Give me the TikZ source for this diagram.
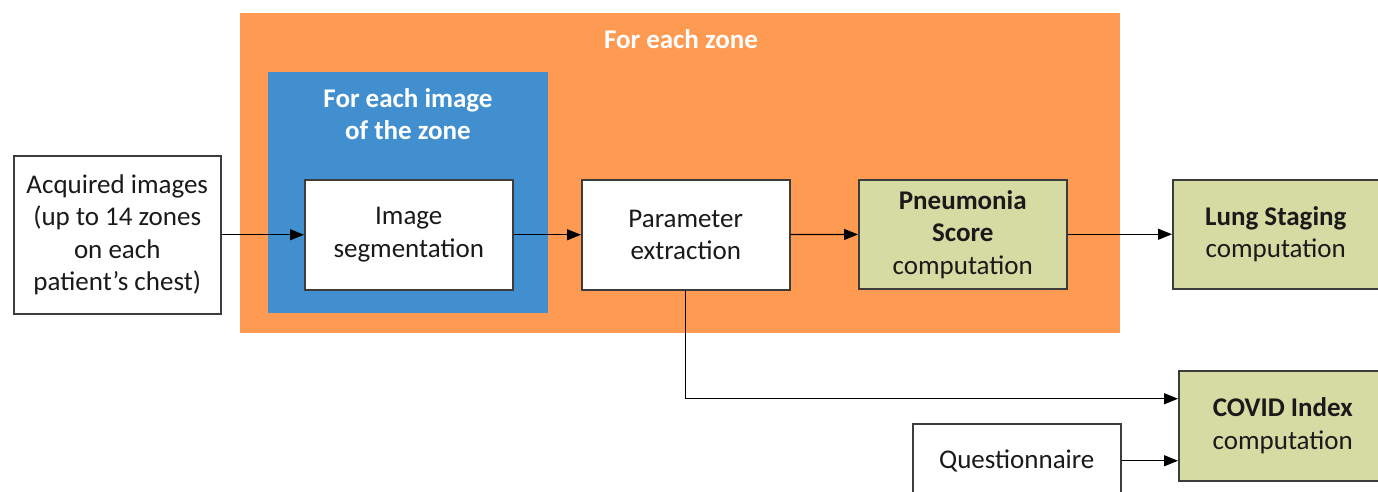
\documentclass[tikz,border=0pt]{standalone}
\usepackage{fontspec}
\setmainfont{Carlito}
\usetikzlibrary{arrows.meta}
\definecolor{zoneorange}{HTML}{FF9A52}
\definecolor{imgblue}{HTML}{418FCE}
\definecolor{stagegreen}{HTML}{D5DBA2}
\definecolor{boxline}{HTML}{3C3C3C}
\definecolor{ink}{HTML}{1A1A1A}
\begin{document}
\begin{tikzpicture}[x=1pt,y=-1pt,
  every node/.style={font=\fontsize{27}{32.5}\selectfont, text=ink, align=center, inner sep=0pt},
  proc/.style={draw=boxline, line width=1.5pt, fill=white, anchor=north west},
  calc/.style={proc, fill=stagegreen},
  region/.style={anchor=north west, inner sep=0pt, draw=none},
  title/.style={font=\fontsize{27}{32.5}\selectfont\bfseries, text=white},
  link/.style={draw=black, line width=1.3pt, -{Triangle[length=14pt,width=11pt]}}
]
\useasboundingbox (0,0) rectangle (1378,492);
\clip (0,0) rectangle (1378,492);

% loop regions
\node[region, fill=zoneorange, minimum width=880pt, minimum height=320pt] (zone) at (240,13) {};
\node[title] (zonetitle) at (681,39) {For each zone};
\node[region, fill=imgblue, minimum width=280pt, minimum height=241pt] (imgloop) at (268,72) {};
\node[title] (imgtitle) at (408,114) {For each image\\of the zone};

% processing steps
\node[proc, minimum width=207pt, minimum height=158pt] (acq) at (13,155)
  {Acquired images\\(up to 14 zones\\on each\\patient’s chest)};
\node[proc, minimum width=208pt, minimum height=110pt] (seg) at (304,179)
  {Image\\segmentation};
\node[proc, minimum width=208pt, minimum height=110pt] (param) at (581,179)
  {Parameter\\extraction};
\node[calc, minimum width=208pt, minimum height=109pt] (pneu) at (858,179)
  {\textbf{Pneumonia}\\\textbf{Score}\\computation};
\node[calc, minimum width=206pt, minimum height=109pt] (lung) at (1172,179)
  {\textbf{Lung Staging}\\computation};
\node[calc, minimum width=208pt, minimum height=110pt] (covid) at (1178,370)
  {\textbf{COVID Index}\\computation};
\node[proc, minimum width=208pt, minimum height=74pt] (quest) at (912,423)
  {Questionnaire};

% connectors
\draw[link] (acq) -- (seg);
\draw[link] (seg) -- (param);
\draw[link] (param) -- (pneu);
\draw[link] (pneu) -- (lung);
\draw[link] (param.south) |- ([yshift=27pt]covid.west);
\draw[link] (quest.east) -- (quest.east -| covid.west);
\end{tikzpicture}
\end{document}
